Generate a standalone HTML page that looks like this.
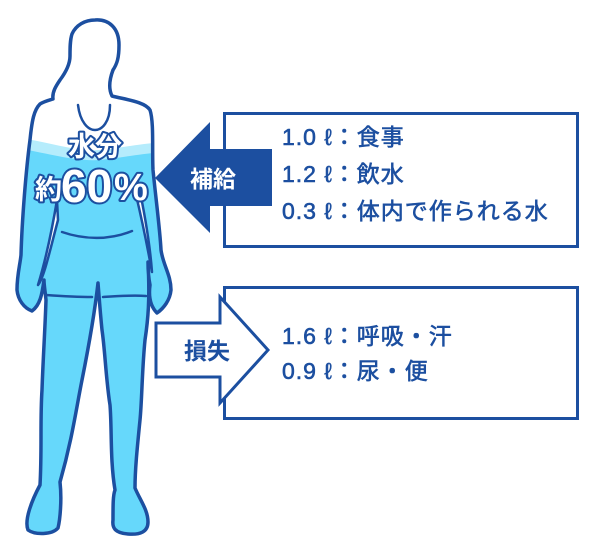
<!DOCTYPE html>
<html><head><meta charset="utf-8"><style>
html,body{margin:0;padding:0;background:#fff;}
svg{display:block;}
text{font-family:"Liberation Sans","Noto Sans CJK JP",sans-serif;}
</style></head><body>
<svg width="600" height="555" viewBox="0 0 600 555" xmlns="http://www.w3.org/2000/svg">
<defs>
<clipPath id="body"><path id="bp" d="M95,20 C109,19 119,28 119,45 C119,58 117,64 113,70 C110,78 108,88 112,96 C128,100 145,102 150,110 C154,122 152,150 153,170 C156,200 160,230 161,250 C163,265 171,275 171,290 C170,300 164,308 157,313 C152,308 148,300 150,285 C148,275 148,268 148,262 C150,300 148,320 145,340 C142,370 142,400 140,420 C137,450 135,470 135,488 C140,500 148,510 148,522 C148,532 140,535 128,534 C115,533 112,528 113,520 C113,505 113,495 115,490 C110,460 112,430 110,405 C106,380 105,350 102,330 C100,310 99,295 98,283 C95,310 88,350 82,380 C76,410 72,440 60,482 C62,500 60,520 58,528 C52,535 35,535 28,530 C24,520 32,500 40,485 C42,450 40,420 42,390 C43,360 45,330 46,300 C45,290 44,285 44,280 C42,295 40,305 32,311 C24,308 18,300 17,290 C17,275 20,265 21,255 C22,220 26,170 30,140 C32,120 34,110 40,104 C45,101 50,100 53,99 C52,92 56,86 60,80 C66,72 70,64 70,56 C70,48 70,40 72,34 C76,25 85,20 95,20 Z"/></clipPath>
</defs>
<g clip-path="url(#body)">
<rect x="0" y="0" width="200" height="555" fill="#fff"/>
<path d="M0,136 C40,138 70,152 100,150 C125,148 150,140 200,142 L200,555 L0,555 Z" fill="#b5ecfc"/>
<path d="M0,146 C40,150 70,162 100,160 C125,158 150,150 200,152 L200,555 L0,555 Z" fill="#66d8fb"/>
</g>
<use href="#bp" fill="none" stroke="#1c4fa0" stroke-width="3.5" stroke-linejoin="round"/>
<g fill="none" stroke="#1c4fa0" stroke-width="2.5" stroke-linecap="round">
<path d="M78,105 C80,122 88,130 95,130 C102,130 110,122 110,105"/>
<path d="M62,232 C85,240 110,240 132,231"/>
<path d="M46,295 C60,296 78,297 92,297"/>
<path d="M103,297 C118,296 132,295 146,296"/>
</g>
<path d="M57,200 C52,230 45,262 38,285 C44,278 50,250 58,220 Z" fill="#fff" stroke="#1c4fa0" stroke-width="2.5" stroke-linejoin="round"/>
<path d="M138,182 C145,215 150,245 152,272 C148,250 142,220 136,195 Z" fill="#fff" stroke="#1c4fa0" stroke-width="2.5" stroke-linejoin="round"/>
<g fill="#fff" stroke="#1c4fa0" stroke-width="4" paint-order="stroke" stroke-linejoin="round" font-weight="bold">
<text x="95" y="156" font-size="27" text-anchor="middle">水分</text>
<text x="35" y="199" font-size="27">約</text>
<text x="61" y="202" font-size="46">60</text>
<text x="114" y="200" font-size="38">%</text>
</g>
<rect x="224.5" y="113.5" width="353" height="133" fill="#fff" stroke="#1c4fa0" stroke-width="3"/>
<path d="M155,178 L210,122 L210,149 L272,149 L272,206 L210,206 L210,233 Z" fill="#1c4fa0"/>
<text x="213" y="187" font-size="23" fill="#fff" font-weight="bold" text-anchor="middle">補給</text>
<g fill="#1c4fa0" stroke="#1c4fa0" stroke-width="0.6" font-size="23" letter-spacing="1">
<text x="282" y="145">1.0 ℓ：食事</text>
<text x="282" y="182">1.2 ℓ：飲水</text>
<text x="282" y="219">0.3 ℓ：体内で作られる水</text>
</g>
<rect x="224.5" y="287.5" width="353" height="131" fill="#fff" stroke="#1c4fa0" stroke-width="3"/>
<path d="M156,323 L220,323 L220,297 L268,350 L220,403 L220,377 L156,377 Z" fill="#fff" stroke="#1c4fa0" stroke-width="3" stroke-linejoin="miter"/>
<text x="207" y="359" font-size="23" fill="#1c4fa0" font-weight="bold" text-anchor="middle">損失</text>
<g fill="#1c4fa0" stroke="#1c4fa0" stroke-width="0.6" font-size="23" letter-spacing="1">
<text x="282" y="344">1.6 ℓ：呼吸・汗</text>
<text x="282" y="379">0.9 ℓ：尿・便</text>
</g>
</svg>
</body></html>
